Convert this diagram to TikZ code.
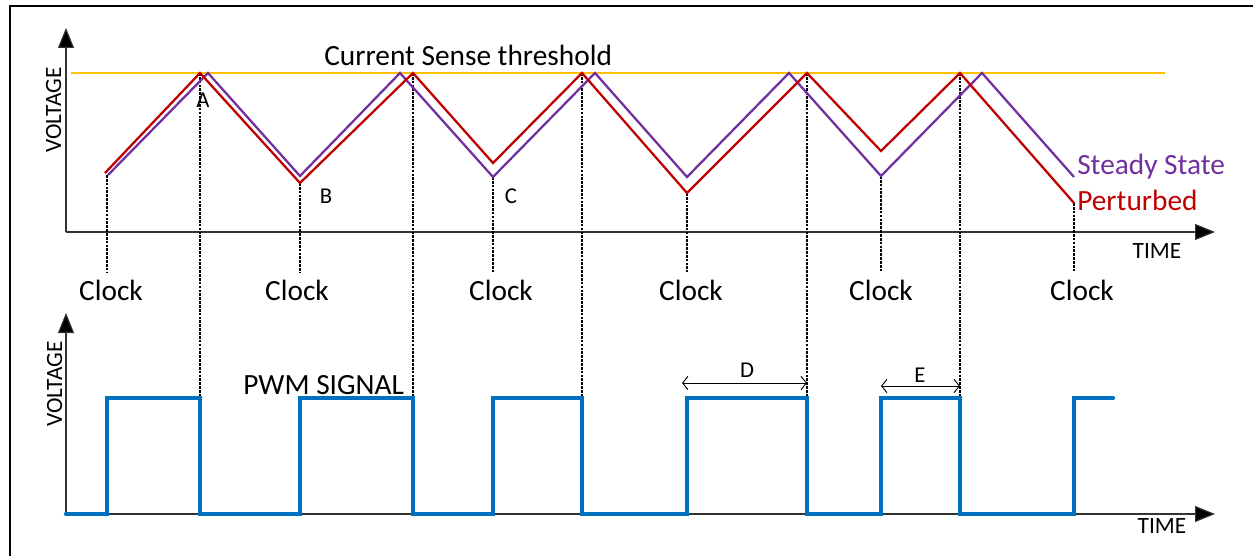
\documentclass[tikz,border=0pt]{standalone}
\usepackage{fontspec}
\setmainfont{Carlito}
\usetikzlibrary{arrows.meta}
\definecolor{thrc}{HTML}{FFC000}
\definecolor{ssc}{HTML}{7030A0}
\definecolor{ptc}{HTML}{C00000}
\definecolor{pwmc}{HTML}{0070C0}
\begin{document}
\begin{tikzpicture}[x=0.75pt,y=-0.75pt,
  axisarrow/.style={line width=0.8pt, draw=black!80, -{Triangle[length=15pt,width=12pt,fill=black]}},
  thrline/.style={line width=2pt, draw=thrc},
  ssline/.style={line width=1.7pt, draw=ssc, line join=miter},
  ptline/.style={line width=1.7pt, draw=ptc, line join=miter},
  pwmline/.style={line width=3.2pt, draw=pwmc, line join=miter, line cap=round},
  clkline/.style={line width=1.3pt, draw=black, dash pattern=on 2pt off 0.9pt},
  dimline/.style={line width=0.7pt, draw=black, {Straight Barb[length=4pt,width=10pt]}-{Straight Barb[length=4pt,width=10pt]}},
  biglbl/.style={font=\fontsize{22}{26}\selectfont, inner sep=0pt},
  axlbl/.style={font=\fontsize{17.5}{21}\selectfont, inner sep=0pt},
  ptlbl/.style={font=\fontsize{17}{20}\selectfont, inner sep=0pt}
]
\useasboundingbox (0,0) rectangle (1253,556);

% frame
\draw[line width=2pt] (10,556) -- (10,6) -- (1253,6);

% ---------- top plot ----------
\coordinate (o1) at (66,232);
\coordinate (yt1) at (66,28);
\coordinate (xt1) at (1215,232);
\draw[axisarrow] (o1) -- (xt1);
\draw[axisarrow] (o1) -- (yt1);
\node[axlbl, rotate=90, anchor=base] (v1) at (61,110) {VOLTAGE};
\node[axlbl, anchor=base] (t1) at (1157,258) {TIME};

% clock dotted lines
\draw[clkline, line width=2pt] (107,175) -- (107,272);
\draw[clkline] (300,183) -- (300,272);
\draw[clkline] (493,177) -- (493,272);
\draw[clkline] (687,193) -- (687,272);
\draw[clkline] (881,176) -- (881,272);
\draw[clkline] (1074,203) -- (1074,272);
% long dotted lines
\foreach \xx in {200,413,582,807,960}
  \draw[clkline] (\xx,73) -- (\xx,397);

% threshold
\draw[thrline] (71,73) -- (1165,73);
\node[biglbl, anchor=base west] (thr) at (324,66) {Current Sense threshold};

% steady state
\draw[ssline] (108,175) -- (208,73) -- (300,176) -- (400,73) -- (493,177) -- (595,73)
  -- (687,177) -- (789,73) -- (881,176) -- (982,73) -- (1074,177);
% perturbed
\draw[ptline] (105,173) -- (200,73) -- (300,183) -- (413,73) -- (493,163) -- (582,73)
  -- (687,193) -- (807,73) -- (881,151) -- (960,73) -- (1074,203);

\node[biglbl, anchor=base west, text=ssc] (ss) at (1077,175) {Steady State};
\node[biglbl, anchor=base west, text=ptc] (pt) at (1077,210) {Perturbed};

\node[ptlbl, anchor=base] (A) at (203,108) {A};
\node[ptlbl, anchor=base] (B) at (326,204) {B};
\node[ptlbl, anchor=base] (C) at (511,204) {C};

% clock labels
\node[biglbl, anchor=base] (c1) at (111,300) {Clock};
\node[biglbl, anchor=base] (c2) at (297,300) {Clock};
\node[biglbl, anchor=base] (c3) at (501,300) {Clock};
\node[biglbl, anchor=base] (c4) at (691,300) {Clock};
\node[biglbl, anchor=base] (c5) at (881,300) {Clock};
\node[biglbl, anchor=base] (c6) at (1082,300) {Clock};

% ---------- bottom plot ----------
\coordinate (o2) at (66,514);
\coordinate (yt2) at (66,313);
\coordinate (xt2) at (1215,514);
\draw[axisarrow] (o2) -- (xt2);
\draw[axisarrow] (o2) -- (yt2);
\node[axlbl, rotate=90, anchor=base] (v2) at (62,384) {VOLTAGE};
\node[axlbl, anchor=base] (t2) at (1162,533) {TIME};

\draw[pwmline] (66,514) -- (107,514) -- (107,398) -- (200,398) -- (200,514) -- (300,514)
  -- (300,398) -- (413,398) -- (413,514) -- (493,514) -- (493,398) -- (582,398)
  -- (582,514) -- (687,514) -- (687,398) -- (807,398) -- (807,514) -- (881,514)
  -- (881,398) -- (960,398) -- (960,514) -- (1074,514) -- (1074,398) -- (1113,398);

\node[biglbl, anchor=base west] (pwm) at (243,394) {PWM SIGNAL};

% D and E
\coordinate (d1) at (682,383);
\coordinate (d2) at (807,383);
\draw[dimline] (d1) -- (d2);
\node[ptlbl, anchor=base] (D) at (747,377) {D};
\coordinate (e1) at (881,386);
\coordinate (e2) at (960,386);
\draw[dimline] (e1) -- (e2);
\node[ptlbl, anchor=base] (E) at (920,382) {E};
\end{tikzpicture}
\end{document}
